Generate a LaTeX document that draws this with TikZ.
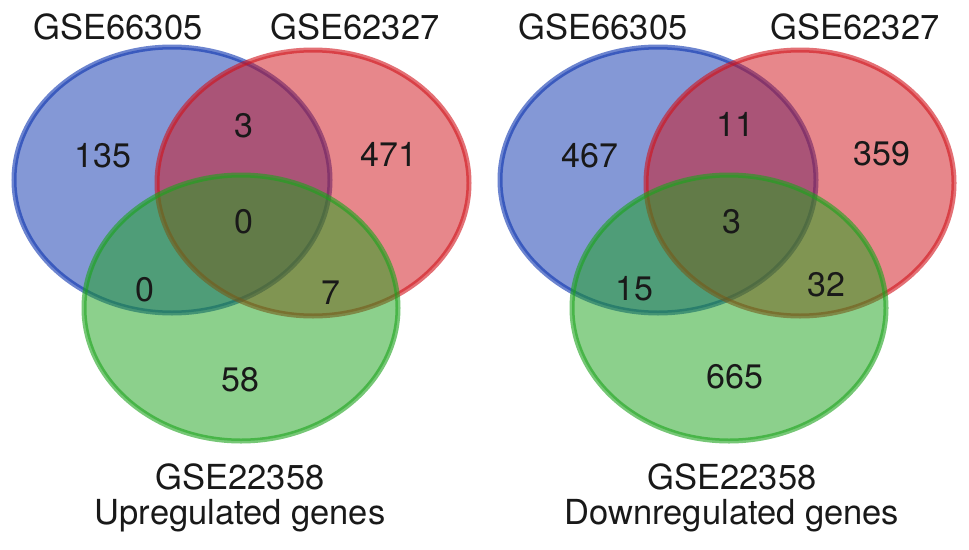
\documentclass[tikz,border=0pt]{standalone}
\usepackage{fontspec}
\setmainfont{TeX Gyre Heros}
\definecolor{vblue}{RGB}{10,50,175}
\definecolor{vred}{RGB}{209,17,25}
\definecolor{vgreen}{RGB}{27,163,27}
\tikzset{
  setfill/.style={fill=#1, draw=#1, fill opacity=0.5, draw opacity=0.6, line width=5pt},
  lbl/.style={inner sep=0pt, font=\fontsize{34.5}{40}\selectfont, text=black!90},
  num/.style={inner sep=0pt, font=\fontsize{34}{40}\selectfont, text=black!90}
}
\begin{document}
\begin{tikzpicture}[x=1pt,y=-1pt]
\useasboundingbox (0,0) rectangle (969,549);
\fill[white] (0,0) rectangle (969,549);
% left diagram
\path[setfill=vblue]  (172,180) ellipse [x radius=158, y radius=133];
\path[setfill=vred]   (313,183) ellipse [x radius=156, y radius=133];
\path[setfill=vgreen] (241,308) ellipse [x radius=157, y radius=133];
% right diagram
\path[setfill=vblue]  (658,180) ellipse [x radius=158, y radius=133];
\path[setfill=vred]   (800,183) ellipse [x radius=154, y radius=133];
\path[setfill=vgreen] (729,308) ellipse [x radius=157, y radius=133];
% labels left
\node[lbl] (l66) at (118,27) {GSE66305};
\node[lbl] (l62) at (355,27) {GSE62327};
\node[lbl] (l22) at (240,477) {GSE22358};
\node[lbl] (lup) at (240,516) {Upregulated genes};
% labels right
\node[lbl] (r66) at (603,27) {GSE66305};
\node[lbl] (r62) at (855,27) {GSE62327};
\node[lbl] (r22) at (732,477) {GSE22358};
\node[lbl] (rdn) at (732,516) {Downregulated genes};
% numbers left
\node[num] (la) at (103,156) {135};
\node[num] (lb) at (244,126) {3};
\node[num] (lc) at (389,154) {471};
\node[num] (ld) at (244,222) {0};
\node[num] (le) at (145,290) {0};
\node[num] (lf) at (331,293) {7};
\node[num] (lg) at (240,380) {58};
% numbers right
\node[num] (ra) at (590,156) {467};
\node[num] (rb) at (735,124) {11};
\node[num] (rc) at (882,154) {359};
\node[num] (rd) at (732,222) {3};
\node[num] (re) at (634,289) {15};
\node[num] (rf) at (826,285) {32};
\node[num] (rg) at (735,377) {665};
\end{tikzpicture}
\end{document}
